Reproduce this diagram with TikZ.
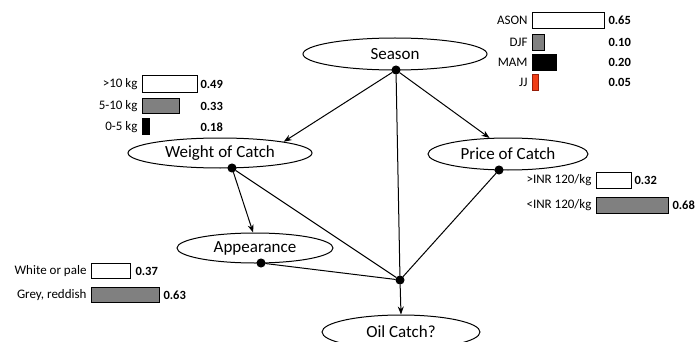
\documentclass[tikz,border=0pt]{standalone}
\usepackage{fontspec}
\setmainfont{Carlito}
\usepackage{tikz}
\usetikzlibrary{shapes,arrows,arrows.meta}
\definecolor{jjred}{RGB}{240,62,22}
\definecolor{jjedge}{RGB}{150,30,10}
\tikzstyle{var} = [draw, ellipse, inner sep=0pt, font=\fontsize{17}{20}\selectfont]
\tikzstyle{dot} = [draw, fill=black, circle, inner sep=0pt, minimum size=8pt]
\tikzstyle{lab} = [inner sep=1pt, anchor=east, font=\fontsize{13}{15}\selectfont]
\tikzstyle{val} = [inner sep=1pt, anchor=west, font=\bfseries\fontsize{12.5}{14}\selectfont]
\tikzstyle{bar} = [draw, line width=0.8pt]

\begin{document}
\begin{tikzpicture}[x=1pt,y=-1pt,->,>={Stealth[length=8pt,width=6pt]},line width=1pt]
\useasboundingbox (0,0) rectangle (695,342);

\node[var, minimum width=184pt, minimum height=32pt] (season) at (395,54) {Season};
\node[var, minimum width=184pt, minimum height=30pt] (weight) at (220,153) {Weight of Catch};
\node[var, minimum width=160pt, minimum height=32pt] (price) at (508,154) {Price of Catch};
\node[var, minimum width=156pt, minimum height=30pt] (appear) at (255,248) {Appearance};
\node[var, minimum width=158pt, minimum height=34pt] (oil) at (401,332) {Oil Catch?};

\node[dot] (sd) at (396,70) {};
\node[dot] (wd) at (232,168) {};
\node[dot] (pd) at (499,170) {};
\node[dot] (ad) at (261,263) {};
\node[dot] (j) at (400,280) {};

  \path
    (sd) edge [] node {} (weight.10)
    (sd) edge [] node {} (price.139)
    (sd) edge [-] node {} (j)
    (wd) edge [] node {} (appear.97)
    (wd) edge [-] node {} (j)
    (ad) edge [-] node {} (j)
    (pd) edge [-] node {} (j)
    (j) edge [] node {} (oil.north);

% Season
\draw[bar, -, fill=white] (532,12) rectangle (604,28);
\draw[bar, -, fill=black!50] (532,34) rectangle (544,50);
\draw[bar, -, fill=black] (532,54) rectangle (556,70);
\draw[bar, -, fill=jjred, draw=jjedge] (532,74) rectangle (538,90);
\node[lab] (s1) at (529,20) {ASON};
\node[lab] (s2) at (529,42) {DJF};
\node[lab] (s3) at (529,62) {MAM};
\node[lab] (s4) at (529,82) {JJ};
\node[val] (v1) at (607,20) {0.65};
\node[val] (v2) at (607,42) {0.10};
\node[val] (v3) at (607,62) {0.20};
\node[val] (v4) at (607,82) {0.05};

% Weight of Catch
\draw[bar, -, fill=white] (142,75) rectangle (197,92);
\draw[bar, -, fill=black!50] (142,98) rectangle (179,113);
\draw[bar, -, fill=black] (142,118) rectangle (149,134);
\node[lab] (w1) at (139,84) {>10 kg};
\node[lab] (w2) at (139,106) {5-10 kg};
\node[lab] (w3) at (139,127) {0-5 kg};
\node[val] (x1) at (199,84) {0.49};
\node[val] (x2) at (199,106) {0.33};
\node[val] (x3) at (199,127) {0.18};

% Price of Catch
\draw[bar, -, fill=white] (596,172) rectangle (631,188);
\draw[bar, -, fill=black!50] (596,197) rectangle (668,213);
\node[lab] (p1) at (593,180) {>INR 120/kg};
\node[lab] (p2) at (593,205) {<INR 120/kg};
\node[val] (q1) at (633,180) {0.32};
\node[val] (q2) at (671,205) {0.68};

% Appearance
\draw[bar, -, fill=white] (91,263) rectangle (130,278);
\draw[bar, -, fill=black!50] (91,287) rectangle (159,302);
\node[lab] (a1) at (88,271) {White or pale};
\node[lab] (a2) at (88,295) {Grey, reddish};
\node[val] (b1) at (134,271) {0.37};
\node[val] (b2) at (162,295) {0.63};

\end{tikzpicture}
\end{document}
